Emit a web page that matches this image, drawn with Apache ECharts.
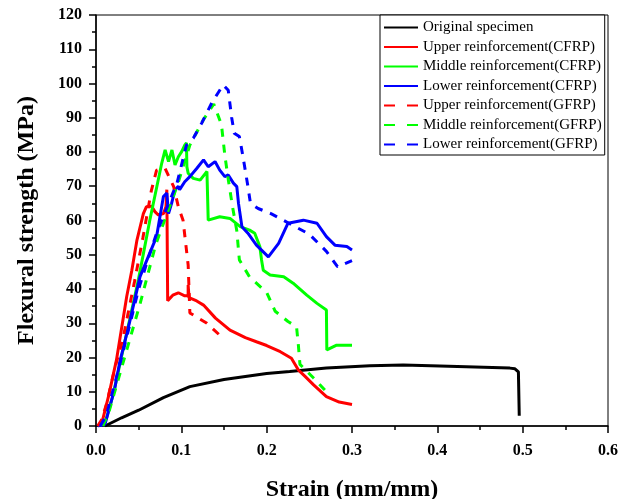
<!DOCTYPE html>
<html>
<head>
<meta charset="utf-8">
<script src="https://cdn.jsdelivr.net/npm/echarts@6/dist/echarts.min.js"></script>
<style>html,body{margin:0;padding:0;background:#fff}#c{width:632px;height:499px}</style>
</head>
<body>
<div id="c"></div>
<script>
var seriesNames = ["Original specimen","Upper reinforcement(CFRP)","Middle reinforcement(CFRP)","Lower reinforcement(CFRP)","Upper reinforcement(GFRP)","Middle reinforcement(GFRP)","Lower reinforcement(GFRP)"];
var xTicks = [0, 0.6, 0.1];
var yTicks = [0, 120, 10];

var original = [[0.0105,0],[0.03,2.4],[0.05,4.6],[0.079,8.3],[0.11,11.5],[0.15,13.6],[0.2,15.3],[0.227,15.9],[0.27,16.9],[0.321,17.6],[0.36,17.8],[0.403,17.5],[0.485,16.9],[0.491,16.7],[0.495,15.8],[0.496,3]];
var upperCFRP = [[0.003,0],[0.008,2],[0.015,9],[0.024,19.3],[0.036,37.8],[0.042,45.5],[0.048,54.3],[0.0555,62],[0.059,64],[0.065,64.2],[0.069,62.6],[0.073,61.6],[0.079,62],[0.082,64],[0.083,69],[0.084,36.6],[0.09,38.2],[0.0965,38.9],[0.104,38],[0.108,38],[0.108,41.2],[0.109,37.5],[0.118,36.5],[0.126,35.3],[0.14,31.5],[0.157,28],[0.175,25.8],[0.188,24.6],[0.2,23.5],[0.216,21.7],[0.229,19.8],[0.237,16.4],[0.245,14.5],[0.255,12],[0.27,8.6],[0.285,7],[0.3,6.3]];
var middleCFRP = [[0.005,0],[0.012,2],[0.02,9],[0.035,26],[0.0496,42.6],[0.063,60],[0.077,76.7],[0.081,80.6],[0.085,77.2],[0.089,80.6],[0.0926,76.2],[0.0965,78.6],[0.1004,80.1],[0.104,82],[0.106,82.7],[0.1065,75.7],[0.108,73.8],[0.114,72.3],[0.122,71.8],[0.13,74.3],[0.1315,60.1],[0.145,61.1],[0.157,60.6],[0.169,58.2],[0.18,57.2],[0.186,56.3],[0.192,52.4],[0.194,48.5],[0.196,45.5],[0.204,44.1],[0.22,43.6],[0.231,41.7],[0.247,38.2],[0.259,35.8],[0.27,33.9],[0.2705,22.2],[0.282,23.6],[0.3,23.6]];
var lowerCFRP = [[0.002,0],[0.0105,0.5],[0.022,11],[0.028,18.8],[0.04,31],[0.0516,43.6],[0.071,55.3],[0.079,67],[0.083,68],[0.085,62],[0.0886,65],[0.0926,69],[0.0965,70],[0.098,69],[0.104,71.3],[0.11,72.8],[0.118,75.2],[0.126,77.7],[0.1315,75.7],[0.1395,77.2],[0.145,74.7],[0.151,72.8],[0.155,73.3],[0.161,70.9],[0.165,69.9],[0.167,65],[0.171,58.2],[0.178,56.3],[0.188,52.8],[0.202,49.4],[0.214,53.3],[0.225,59.2],[0.243,60.1],[0.259,59.2],[0.27,55.3],[0.28,52.8],[0.294,52.4],[0.3,51.4]];
var upperGFRP = [[0.002,0],[0.007,2],[0.0125,6.6],[0.022,16.8],[0.032,26],[0.045,42],[0.055,55],[0.065,68.9],[0.071,74.7],[0.081,75.2],[0.091,69.9],[0.0965,64],[0.102,60.1],[0.108,47],[0.11,33],[0.13,30],[0.149,25.6]];
var middleGFRP = [[0.008,0],[0.015,4],[0.03,17],[0.052,36],[0.07,53],[0.095,70],[0.11,82],[0.126,89.5],[0.138,94],[0.147,88],[0.151,79],[0.155,72],[0.16,64],[0.165,57],[0.168,48.5],[0.18,43.5],[0.2,39],[0.21,33.5],[0.225,30.5],[0.235,29],[0.237,24],[0.239,18],[0.245,16.5],[0.255,14],[0.27,10]];
var lowerGFRP = [[0.005,0],[0.012,3],[0.03,20],[0.05,40],[0.06,48],[0.072,57],[0.095,71],[0.106,82],[0.114,84],[0.124,88.5],[0.136,94.5],[0.149,99.6],[0.155,98],[0.159,90],[0.162,85.5],[0.168,84.5],[0.172,79],[0.178,70],[0.181,65],[0.19,63.5],[0.205,62],[0.25,56],[0.27,51],[0.283,46.5],[0.3,48.3]];

var dataSets = [original, upperCFRP, middleCFRP, lowerCFRP, upperGFRP, middleGFRP, lowerGFRP];
var colors = ["#000000","#ff0000","#00ff00","#0000ff","#ff0000","#00ff00","#0000ff"];
var dashed = [false,false,false,false,true,true,true];

var FONT = "'Liberation Serif','Times New Roman',serif";
var chart = echarts.init(document.getElementById('c'), null, {renderer:'canvas'});
var series = dataSets.map(function(d,i){
  return {
    name: seriesNames[i], type:'line', data:d, symbol:'none', smooth:false,
    animation:false, z: 2 + i,
    lineStyle:{color:colors[i], width:3, type: dashed[i] ? [8,8] : 'solid'},
    itemStyle:{color:colors[i]}
  };
});
chart.setOption({
  backgroundColor:'#fff',
  animation:false,
  grid:{left:96, right:24, top:15, bottom:73, show:true, borderColor:'#000', borderWidth:1, backgroundColor:'transparent', outerBoundsMode:'none', containLabel:false},
  legend:{
    left:380, top:15, orient:'vertical', padding:[5,3,3,3], itemGap:4.5,
    itemWidth:34, itemHeight:14, borderColor:'#000', borderWidth:1, borderRadius:0, backgroundColor:'#fff',
    itemStyle:{opacity:0},
    textStyle:{fontFamily:FONT, fontSize:15, color:'#000', lineHeight:15},
    data: seriesNames.map(function(n,i){ return dashed[i] ? {name:n, lineStyle:{type:[11,12]}} : {name:n}; })
  },
  xAxis:{
    type:'value', min:xTicks[0], max:xTicks[1], interval:xTicks[2],
    name:'Strain (mm/mm)', nameLocation:'middle', nameGap:52,
    nameTextStyle:{fontFamily:FONT, fontSize:24, fontWeight:'bold', color:'#000'},
    axisLine:{show:true, onZero:false, lineStyle:{color:'#000', width:1.5}},
    axisTick:{show:true, inside:false, length:7, lineStyle:{color:'#000', width:1.5}},
    minorTick:{show:true, splitNumber:2, length:4, lineStyle:{color:'#000', width:1.5}},
    splitLine:{show:false},
    axisLabel:{fontFamily:FONT, fontSize:16, fontWeight:'bold', color:'#000', margin:17, formatter:function(v){return v.toFixed(1);}}
  },
  yAxis:{
    type:'value', min:yTicks[0], max:yTicks[1], interval:yTicks[2],
    name:'Flexural strength (MPa)', nameLocation:'middle', nameGap:57,
    nameTextStyle:{fontFamily:FONT, fontSize:24, fontWeight:'bold', color:'#000'},
    axisLine:{show:true, onZero:false, lineStyle:{color:'#000', width:1.5}},
    axisTick:{show:true, inside:false, length:7, lineStyle:{color:'#000', width:1.5}},
    minorTick:{show:true, splitNumber:2, length:4, lineStyle:{color:'#000', width:1.5}},
    splitLine:{show:false},
    axisLabel:{fontFamily:FONT, fontSize:16, fontWeight:'bold', color:'#000', margin:14}
  },
  series: series
});
</script>
</body>
</html>
